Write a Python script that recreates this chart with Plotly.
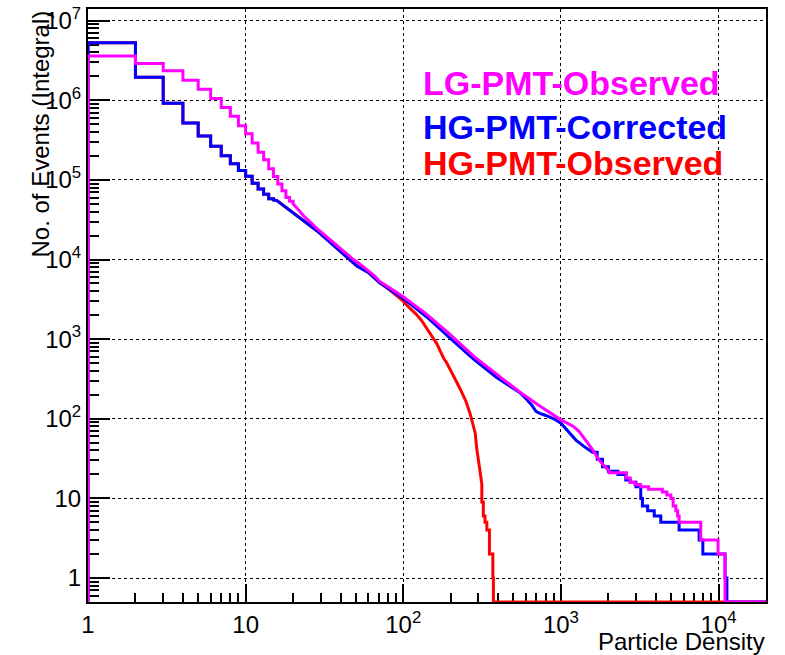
import numpy as np
import plotly.graph_objects as go

# ---------------- axis limits & tick labels ----------------
X_MIN, X_MAX = 1.0, 2.0e4
Y_MIN, Y_MAX = 0.5, 1.4e7
Y_ZERO = Y_MIN          # empty bins are drawn on the bottom of the frame (log scale)

x_tick_vals = [1, 10, 100, 1000, 10000]
x_tick_text = ["1", "10", "10<sup>2</sup>", "10<sup>3</sup>", "10<sup>4</sup>"]
y_tick_vals = [1, 10, 100, 1e3, 1e4, 1e5, 1e6, 1e7]
y_tick_text = ["1", "10", "10<sup>2</sup>", "10<sup>3</sup>", "10<sup>4</sup>",
               "10<sup>5</sup>", "10<sup>6</sup>", "10<sup>7</sup>"]

x_title = "Particle Density"
y_title = "No. of Events (Integral)"

# ---------------- LG-PMT-Observed (magenta) ----------------
lg_bin_edges = list(range(1, 21))
lg_bin_vals = [3.6e6, 2.9e6, 2.34e6, 1.79e6, 1.38e6, 1.05e6, 8.1e5, 6.3e5, 4.8e5,
               3.8e5, 2.9e5, 2.23e5, 1.79e5, 1.38e5, 1.1e5, 8.9e4, 7.3e4, 6.0e4, 5.4e4]
lg_mid_x = [20, 21, 22, 23.3, 25, 27, 29, 31.2, 33.5, 36, 39, 41.8, 45, 48.3, 53, 60, 66,
            71, 100, 141, 198, 278, 391, 550, 735, 1000, 1100, 1200, 1307, 1400, 1513,
            1600, 1750, 1900, 2025]
lg_mid_y = [5.0e4, 4.5e4, 4.0e4, 3.55e4, 3.1e4, 2.65e4, 2.35e4, 2.09e4, 1.85e4, 1.64e4,
            1.45e4, 1.29e4, 1.13e4, 1.0e4, 8.8e3, 7.2e3, 6.2e3,
            5.3e3, 3.4e3, 2.05e3, 1.15e3, 615, 360, 215, 145, 97, 88, 80, 69, 57, 47,
            40, 30, 25, 22]
lg_tail_edges = [2025, 2600, 2750, 2950, 3200, 3600, 4400, 4700, 4980, 5150, 5360,
                 5500, 5620, 7710, 9930, 11000]
lg_tail_vals = [21, 18, 16, 15, 14, 13, 12, 11, 10, 8, 7, 6, 5, 3, 2, 0]

# ---------------- HG-PMT-Corrected (blue) ----------------
hgc_bin_edges = list(range(1, 16))
hgc_bin_vals = [5.28e6, 1.95e6, 9.2e5, 5.2e5, 3.57e5, 2.65e5, 2.01e5, 1.59e5, 1.31e5,
                1.11e5, 9.1e4, 7.7e4, 6.6e4, 5.8e4]
hgc_mid_x = [15, 15.8, 19.2, 23.3, 28.3, 34.4, 41.8, 50.8, 60, 71, 100, 141, 198, 278,
             391, 550, 607, 650, 695, 735, 803, 900, 1000, 1100, 1245, 1400, 1585]
hgc_mid_y = [5.6e4, 5.5e4, 4.1e4, 3.07e4, 2.3e4, 1.64e4, 1.17e4, 8.3e3, 6.9e3, 5.1e3,
             3.25e3, 1.9e3, 1.03e3, 565, 330, 212, 175, 150, 124, 117, 110, 100, 88,
             72, 54, 45, 38]
hgc_tail_edges = [1585, 1700, 1835, 2000, 2300, 2580, 2750, 2990, 3210, 3290, 3550,
                  3910, 4300, 5620, 7530, 7950, 11000, 11300]
hgc_tail_vals = [38, 31, 25, 22, 20, 17, 16, 14, 10, 8, 7, 6, 5, 4, 3, 2, 1, 0]

# ---------------- HG-PMT-Observed (red) ----------------
hgo_bin_edges = list(range(1, 16))
hgo_bin_vals = [5.28e6, 1.95e6, 9.2e5, 5.2e5, 3.57e5, 2.65e5, 2.01e5, 1.59e5, 1.31e5,
                1.11e5, 9.1e4, 7.7e4, 6.6e4, 5.8e4]
hgo_mid_x = [15, 15.8, 19.2, 23.3, 28.3, 34.4, 41.8, 50.8, 60, 71, 80, 90, 100, 110,
             121, 131, 141, 152, 163, 172, 180, 188, 200, 208, 218, 230, 240, 250, 264,
             272, 278, 286, 293, 304, 315]
hgo_mid_y = [5.6e4, 5.5e4, 4.1e4, 3.07e4, 2.3e4, 1.64e4, 1.17e4, 8.3e3, 6.9e3, 5.1e3,
             4.3e3, 3.6e3, 3.0e3, 2.45e3, 2.05e3, 1.7e3, 1.36e3, 1.08e3, 880, 700, 580,
             510, 410, 345, 290, 235, 195, 165, 120, 100, 82, 66, 41, 25, 15]
hgo_tail_edges = [315, 322, 330, 339, 352, 370, 373]
hgo_tail_vals = [9, 6, 5, 4, 2, 1, 0]

COL_LG, COL_HGC, COL_HGO = "#FF00FF", "#0000FF", "#FF0000"


def histo_path(bin_edges, bin_vals, mid_x, mid_y, tail_edges, tail_vals):
    """Build the outline of a ROOT-style histogram: step bins, dense part, step tail."""
    xs, ys = [bin_edges[0]], [Y_ZERO]
    for i, v in enumerate(bin_vals):
        xs += [bin_edges[i], bin_edges[i + 1]]
        ys += [v, v]
    xs += list(mid_x)
    ys += list(mid_y)
    for i, v in enumerate(tail_vals):
        x_end = tail_edges[i + 1] if i + 1 < len(tail_edges) else X_MAX
        vv = v if v > 0 else Y_ZERO
        xs += [tail_edges[i], x_end]
        ys += [vv, vv]
    return xs, ys


fig = go.Figure()
for args, col in [((hgo_bin_edges, hgo_bin_vals, hgo_mid_x, hgo_mid_y, hgo_tail_edges, hgo_tail_vals), COL_HGO),
                  ((hgc_bin_edges, hgc_bin_vals, hgc_mid_x, hgc_mid_y, hgc_tail_edges, hgc_tail_vals), COL_HGC),
                  ((lg_bin_edges, lg_bin_vals, lg_mid_x, lg_mid_y, lg_tail_edges, lg_tail_vals), COL_LG)]:
    xs, ys = histo_path(*args)
    fig.add_trace(go.Scatter(x=xs, y=ys, mode="lines",
                             line=dict(color=col, width=3, shape="linear"),
                             showlegend=False, hoverinfo="skip"))

FONT = "Liberation Sans, Arial, Helvetica, sans-serif"


def minor_vals(lo_exp, hi_exp, vmin, vmax):
    out = []
    for e in range(lo_exp, hi_exp + 1):
        for m in range(2, 10):
            v = m * 10.0 ** e
            if vmin < v < vmax:
                out.append(v)
    return out


axis_common = dict(type="log", showline=True, linecolor="black", linewidth=2, mirror=True,
                   ticks="inside", tickcolor="black", tickwidth=1.5, automargin=False,
                   tickmode="array", showgrid=True, gridcolor="black", gridwidth=1,
                   griddash="dot", zeroline=False, layer="below traces",
                   tickfont=dict(family=FONT, size=24, color="black"))

fig.update_xaxes(**axis_common, range=[np.log10(X_MIN), np.log10(X_MAX)],
                 tickvals=x_tick_vals, ticktext=x_tick_text, ticklen=18,
                 minor=dict(ticks="inside", ticklen=9, tickcolor="black", tickwidth=1.5,
                            tickvals=minor_vals(0, 4, X_MIN, X_MAX), showgrid=False))
fig.update_yaxes(**axis_common, range=[np.log10(Y_MIN), np.log10(Y_MAX)],
                 tickvals=y_tick_vals, ticktext=y_tick_text, ticklen=22,
                 minor=dict(ticks="inside", ticklen=11, tickcolor="black", tickwidth=1.5,
                            tickvals=minor_vals(-1, 7, Y_MIN, Y_MAX), showgrid=False))

L, R, T, B, W, H = 88, 19, 9, 53, 785, 655
PW, PH = W - L - R, H - T - B


def px_x(px):
    return (px - L) / PW


def px_y(py):
    return 1 - (py - T) / PH


annotations = [
    dict(text=x_title, x=px_x(767), y=px_y(641), xanchor="right", yanchor="middle",
         font=dict(family=FONT, size=24, color="black")),
    dict(text=y_title, x=px_x(40), y=px_y(9), xanchor="center", yanchor="top",
         textangle=-90, font=dict(family=FONT, size=24, color="black")),
    dict(text="<b>LG-PMT-Observed</b>", x=px_x(421), y=px_y(83), xanchor="left",
         yanchor="middle", font=dict(family=FONT, size=34, color=COL_LG)),
    dict(text="<b>HG-PMT-Corrected</b>", x=px_x(421), y=px_y(127), xanchor="left",
         yanchor="middle", font=dict(family=FONT, size=34, color=COL_HGC)),
    dict(text="<b>HG-PMT-Observed</b>", x=px_x(421), y=px_y(163), xanchor="left",
         yanchor="middle", font=dict(family=FONT, size=34, color=COL_HGO)),
]
for a in annotations:
    a.update(xref="paper", yref="paper", showarrow=False)

fig.update_layout(width=W, height=H, margin=dict(l=L, r=R, t=T, b=B),
                  paper_bgcolor="white", plot_bgcolor="white",
                  annotations=annotations, showlegend=False)

# remove the default 8px page margin so the figure sits at the window's top-left corner
fig.write_html("out.html", config={"displayModeBar": False},
               post_script="document.body.style.margin='0px';document.body.style.overflow='hidden';")
